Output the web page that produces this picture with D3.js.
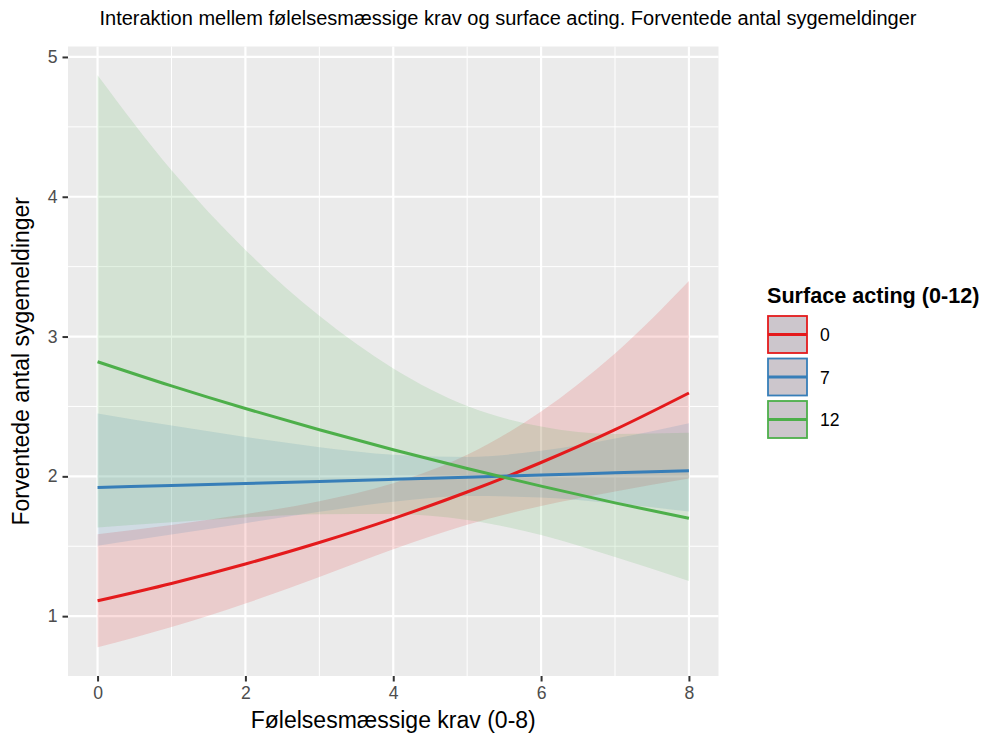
<!DOCTYPE html>
<html lang="da">
<head>
<meta charset="UTF-8">
<title>Interaktion</title>
<script src="https://d3js.org/d3.v7.min.js"></script>
<style>
    body { margin: 0; background: #fff; }
    text { font-family: "Liberation Sans", Arial, sans-serif; }
    .tick-label { fill: #4d4d4d; font-size: 17.6px; }
    .axis-title { fill: #000; font-size: 23px; }
    .plot-title { fill: #000; font-size: 20px; }
    .legend-title { font-weight: bold; font-size: 21.6px; }
    .legend-label { fill: #000; font-size: 17.6px; }
</style>
</head>
<body>
<svg width="981" height="740"></svg>
<script>
    // values
    var krav = [0, 1, 2, 3, 4, 5, 6, 7, 8];
    var groups = ["0", "7", "12"];

    var fit0  = [1.11, 1.234, 1.373, 1.527, 1.698, 1.888, 2.099, 2.334, 2.596];
    var low0  = [0.777, 0.922, 1.090, 1.280, 1.478, 1.654, 1.788, 1.892, 1.984];
    var high0 = [1.586, 1.652, 1.729, 1.822, 1.951, 2.154, 2.464, 2.879, 3.398];

    var fit7  = [1.92, 1.935, 1.949, 1.964, 1.979, 1.994, 2.009, 2.025, 2.04];
    var low7  = [1.504, 1.584, 1.665, 1.746, 1.818, 1.859, 1.849, 1.805, 1.749];
    var high7 = [2.450, 2.363, 2.281, 2.209, 2.155, 2.139, 2.183, 2.271, 2.380];

    var fit12  = [2.82, 2.647, 2.485, 2.333, 2.19, 2.056, 1.93, 1.81, 1.70];
    var low12  = [1.634, 1.672, 1.706, 1.729, 1.730, 1.688, 1.581, 1.423, 1.251];
    var high12 = [4.87, 4.19, 3.62, 3.148, 2.772, 2.504, 2.356, 2.303, 2.311];

    var xTicks = [0, 2, 4, 6, 8];
    var yTicks = [1, 2, 3, 4, 5];

    var colors = ["#e41a1c", "#377eb8", "#4daf4a"];

    var series = [
        {name: groups[0], fit: fit0, low: low0, high: high0},
        {name: groups[1], fit: fit7, low: low7, high: high7},
        {name: groups[2], fit: fit12, low: low12, high: high12}
    ];

    var svg = d3.select("svg");
    var panel = {left: 68, right: 718.5, top: 46.5, bottom: 676};

    var x = d3.scaleLinear().domain([-0.4, 8.4]).range([panel.left, panel.right]);
    var y = d3.scaleLinear().domain([0.5718, 5.0748]).range([panel.bottom, panel.top]);
    var color = d3.scaleOrdinal().domain(groups).range(colors);

    // panel background and grid
    svg.append("rect")
        .attr("x", panel.left).attr("y", panel.top)
        .attr("width", panel.right - panel.left).attr("height", panel.bottom - panel.top)
        .attr("fill", "#ebebeb");

    var g = svg.append("g");
    var minorX = [1, 3, 5, 7], minorY = [1.5, 2.5, 3.5, 4.5];

    g.selectAll(".minor-x").data(minorX).enter().append("line")
        .attr("x1", d => x(d)).attr("x2", d => x(d))
        .attr("y1", panel.top).attr("y2", panel.bottom)
        .attr("stroke", "#fff").attr("stroke-width", 1);
    g.selectAll(".minor-y").data(minorY).enter().append("line")
        .attr("y1", d => y(d)).attr("y2", d => y(d))
        .attr("x1", panel.left).attr("x2", panel.right)
        .attr("stroke", "#fff").attr("stroke-width", 1);
    g.selectAll(".major-x").data(xTicks).enter().append("line")
        .attr("x1", d => x(d)).attr("x2", d => x(d))
        .attr("y1", panel.top).attr("y2", panel.bottom)
        .attr("stroke", "#fff").attr("stroke-width", 2.2);
    g.selectAll(".major-y").data(yTicks).enter().append("line")
        .attr("y1", d => y(d)).attr("y2", d => y(d))
        .attr("x1", panel.left).attr("x2", panel.right)
        .attr("stroke", "#fff").attr("stroke-width", 2.2);

    // ribbons then lines
    var area = d3.area()
        .x((d, i) => x(krav[i]))
        .y0(d => y(d[0]))
        .y1(d => y(d[1]))
        .curve(d3.curveMonotoneX);
    var line = d3.line()
        .x((d, i) => x(krav[i]))
        .y(d => y(d))
        .curve(d3.curveMonotoneX);

    series.forEach(function(s) {
        g.append("path")
            .datum(s.low.map((v, i) => [v, s.high[i]]))
            .attr("d", area)
            .attr("fill", color(s.name))
            .attr("fill-opacity", 0.15);
    });
    series.forEach(function(s) {
        g.append("path")
            .datum(s.fit)
            .attr("d", line)
            .attr("fill", "none")
            .attr("stroke", color(s.name))
            .attr("stroke-width", 3);
    });

    // axes
    var xAxis = svg.append("g")
        .attr("transform", "translate(0," + panel.bottom + ")")
        .call(d3.axisBottom(x).tickValues(xTicks).tickFormat(d3.format("d")).tickSize(5.5).tickPadding(5));
    var yAxis = svg.append("g")
        .attr("transform", "translate(" + panel.left + ",0)")
        .call(d3.axisLeft(y).tickValues(yTicks).tickFormat(d3.format("d")).tickSize(5.5).tickPadding(5));
    [xAxis, yAxis].forEach(function(a) {
        a.select(".domain").remove();
        a.selectAll(".tick line").attr("stroke", "#333").attr("stroke-width", 2);
        a.selectAll(".tick text").attr("class", "tick-label").attr("font-size", null).attr("font-family", null);
    });

    svg.append("text").attr("class", "axis-title")
        .attr("x", (panel.left + panel.right) / 2).attr("y", 728)
        .attr("text-anchor", "middle")
        .text("Følelsesmæssige krav (0-8)");
    svg.append("text").attr("class", "axis-title")
        .attr("transform", "translate(29," + (panel.top + panel.bottom) / 2 + ") rotate(-90)")
        .attr("text-anchor", "middle")
        .text("Forventede antal sygemeldinger");
    svg.append("text").attr("class", "plot-title")
        .attr("x", 508).attr("y", 25)
        .attr("text-anchor", "middle")
        .text("Interaktion mellem følelsesmæssige krav og surface acting. Forventede antal sygemeldinger");

    // legend
    var legend = svg.append("g").attr("transform", "translate(767,0)");
    legend.append("text").attr("class", "legend-title")
        .attr("x", 0).attr("y", 303)
        .text("Surface acting (0-12)");
    var keys = legend.selectAll(".key").data(groups).enter().append("g")
        .attr("transform", (d, i) => "translate(0," + (315 + i * 42.5) + ")");
    keys.append("rect")
        .attr("x", 1).attr("y", 1).attr("width", 39).attr("height", 37)
        .attr("fill", "#ccc6cc")
        .attr("stroke", d => color(d)).attr("stroke-width", 1.8);
    keys.append("line")
        .attr("x1", 1).attr("x2", 40).attr("y1", 19.5).attr("y2", 19.5)
        .attr("stroke", d => color(d)).attr("stroke-width", 3);
    keys.append("text").attr("class", "legend-label")
        .attr("x", 53).attr("y", 26)
        .text(d => d);
</script>
</body>
</html>
